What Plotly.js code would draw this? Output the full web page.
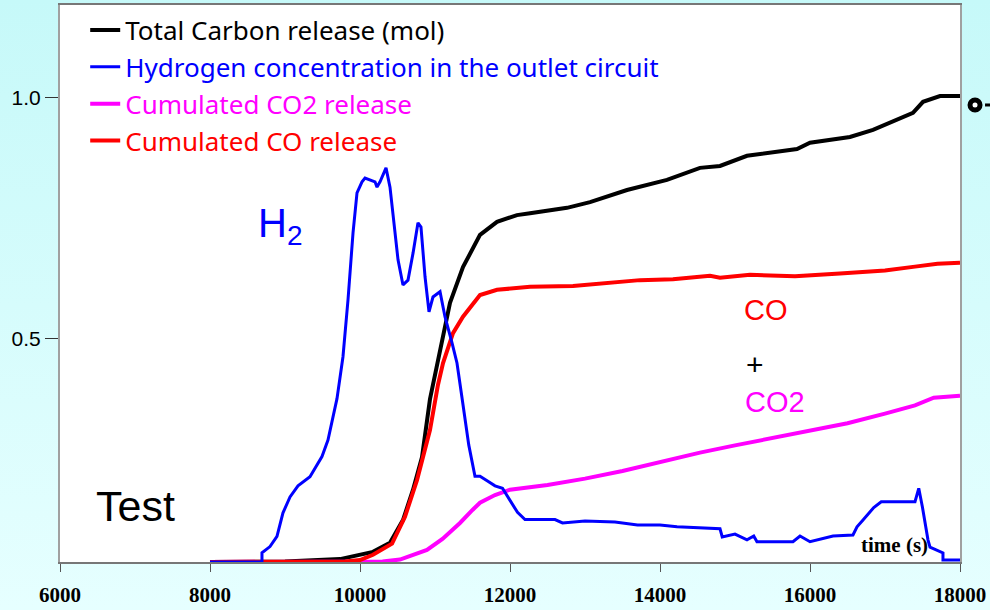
<!DOCTYPE html>
<html>
<head>
<meta charset="utf-8">
<script src="https://cdn.plot.ly/plotly-3.0.1.min.js"></script>
<style>
  html, body { margin: 0; padding: 0; }
  body { width: 990px; height: 610px; background: linear-gradient(#c6f9f9, #e6ffff); }
  #chart { width: 990px; height: 610px; }
</style>
</head>
<body>
<div id="chart"></div>
<script>
// ---- Data ----
const carbonX = [8000, 9000, 9733, 10040, 10173, 10400, 10573, 10707, 10827, 10933, 11067, 11200, 11373, 11600, 11827, 12093, 12267, 12760, 13067, 13560, 14093, 14533, 14800, 15160, 15827, 16000, 16533, 16840, 17373, 17507, 17733, 18000];
const carbonY = [0.037, 0.038, 0.043, 0.053, 0.058, 0.077, 0.124, 0.187, 0.255, 0.375, 0.477, 0.575, 0.649, 0.716, 0.743, 0.757, 0.761, 0.772, 0.784, 0.809, 0.830, 0.855, 0.859, 0.880, 0.894, 0.907, 0.919, 0.934, 0.969, 0.992, 1.004, 1.004];

const coX = [8000, 9800, 10000, 10173, 10427, 10600, 10760, 10933, 11040, 11107, 11240, 11373, 11600, 11827, 12267, 12840, 13733, 14173, 14667, 14800, 15200, 15800, 16400, 17000, 17400, 17700, 18000];
const coY = [0.037, 0.038, 0.041, 0.052, 0.075, 0.131, 0.207, 0.311, 0.405, 0.450, 0.512, 0.546, 0.591, 0.602, 0.608, 0.610, 0.622, 0.624, 0.631, 0.627, 0.633, 0.630, 0.636, 0.642, 0.650, 0.656, 0.658];

const co2X = [8000, 10300, 10533, 10840, 10893, 11100, 11333, 11500, 11600, 11800, 12000, 12500, 13000, 13500, 14000, 14533, 15000, 15500, 16000, 16500, 17000, 17400, 17650, 18000];
const co2Y = [0.037, 0.038, 0.042, 0.058, 0.062, 0.085, 0.118, 0.145, 0.160, 0.176, 0.187, 0.197, 0.210, 0.226, 0.245, 0.264, 0.279, 0.295, 0.310, 0.325, 0.345, 0.362, 0.378, 0.382];

const h2X = [8000, 8693, 8693, 8800, 8893, 8973, 9067, 9173, 9333, 9400, 9493, 9573, 9627, 9693, 9773, 9840, 9907, 9960, 10027, 10067, 10200, 10227, 10267, 10347, 10400, 10440, 10507, 10573, 10640, 10707, 10773, 10813, 10867, 10920, 10973, 11067, 11133, 11227, 11293, 11360, 11450, 11533, 11600, 11700, 11800, 11900, 12000, 12100, 12200, 12600, 12700, 13000, 13400, 13700, 14000, 14227, 14800, 14830, 15000, 15160, 15250, 15293, 15773, 15867, 16000, 16307, 16573, 16627, 16707, 16850, 16950, 17400, 17450, 17500, 17573, 17600, 17773, 17773, 18000];
const h2Y = [0.037, 0.037, 0.056, 0.069, 0.090, 0.139, 0.172, 0.195, 0.214, 0.232, 0.256, 0.290, 0.332, 0.376, 0.463, 0.581, 0.720, 0.803, 0.826, 0.834, 0.826, 0.815, 0.826, 0.855, 0.815, 0.753, 0.664, 0.612, 0.622, 0.678, 0.741, 0.732, 0.629, 0.556, 0.587, 0.598, 0.546, 0.492, 0.450, 0.378, 0.280, 0.215, 0.215, 0.205, 0.195, 0.190, 0.165, 0.140, 0.125, 0.125, 0.118, 0.122, 0.120, 0.114, 0.114, 0.110, 0.106, 0.089, 0.095, 0.083, 0.091, 0.079, 0.079, 0.091, 0.079, 0.091, 0.093, 0.110, 0.124, 0.150, 0.162, 0.162, 0.190, 0.150, 0.083, 0.068, 0.056, 0.041, 0.041];

const names = ['Total Carbon release (mol)', 'Hydrogen concentration in the outlet circuit', 'Cumulated CO2 release', 'Cumulated CO release'];
const colors = ['#000000', '#0000ff', '#ff00ff', '#ff0000'];
const xTicks = [6000, 8000, 10000, 12000, 14000, 16000, 18000];
const xTickText = ['6000', '8000', '10000', '12000', '14000', '16000', '18000'];
const yTicks = [0.5, 1.0];
const yTickText = ['0.5', '1.0'];

const FONT = 'Liberation Sans, Arial, sans-serif';
const LEGFONT = 'Noto Sans, Liberation Sans, sans-serif';
const SERIF = 'Liberation Serif, Times New Roman, serif';

function nm(i) { return '<span style="color:' + colors[i] + '">' + names[i] + '</span>'; }

const traces = [
  { x: carbonX, y: carbonY, name: nm(0), legendrank: 1, mode: 'lines', line: { color: colors[0], width: 4 } },
  { x: co2X, y: co2Y, name: nm(2), legendrank: 3, mode: 'lines', line: { color: colors[2], width: 4 } },
  { x: coX, y: coY, name: nm(3), legendrank: 4, mode: 'lines', line: { color: colors[3], width: 4 } },
  { x: h2X, y: h2Y, name: nm(1), legendrank: 2, mode: 'lines', line: { color: colors[1], width: 3 } }
];

const layout = {
  width: 990, height: 610,
  margin: { l: 60, r: 30, t: 5, b: 48 },
  paper_bgcolor: 'rgba(0,0,0,0)',
  plot_bgcolor: '#ffffff',
  showlegend: true,
  legend: {
    x: 0.028, y: 0.997, xanchor: 'left', yanchor: 'top',
    bgcolor: 'rgba(0,0,0,0)', borderwidth: 0,
    font: { family: LEGFONT, size: 26, color: '#000' },
    itemwidth: 30, tracegroupgap: 0
  },
  xaxis: {
    range: [6000, 18000], tickvals: xTicks, ticktext: xTickText, ticks: 'outside', ticklen: 8, tickcolor: '#555', tickwidth: 1,
    showgrid: false, zeroline: false, showline: true, linecolor: '#777', linewidth: 2, mirror: true,
    ticklabelstandoff: 5,
    tickfont: { family: SERIF, size: 21, color: '#000', weight: 'bold' }
  },
  yaxis: {
    range: [0.037, 1.193], tickvals: yTicks, ticktext: yTickText, ticks: 'outside', ticklen: 13, tickcolor: '#333', tickwidth: 1,
    showgrid: false, zeroline: false, showline: true, linecolor: '#a0a0a0', linewidth: 2, mirror: true,
    tickfont: { family: FONT, size: 21, color: '#000' }
  },
  annotations: [
    { x: 8933, y: 0.735, xref: 'x', yref: 'y', text: 'H<sub>2</sub>', showarrow: false, font: { family: FONT, size: 40, color: '#0000ff' } },
    { x: 7013, y: 0.153, xref: 'x', yref: 'y', text: 'Test', showarrow: false, font: { family: FONT, size: 43, color: '#000' } },
    { x: 15413, y: 0.560, xref: 'x', yref: 'y', text: 'CO', showarrow: false, font: { family: FONT, size: 29, color: '#ff0000' } },
    { x: 15267, y: 0.446, xref: 'x', yref: 'y', text: '+', showarrow: false, font: { family: FONT, size: 30, color: '#000' } },
    { x: 15533, y: 0.369, xref: 'x', yref: 'y', text: 'CO2', showarrow: false, font: { family: FONT, size: 29, color: '#ff00ff' } },
    { x: 17133, y: 0.073, xref: 'x', yref: 'y', text: 'time (s)', showarrow: false, font: { family: SERIF, size: 21, color: '#000', weight: 'bold' } }
  ],
  shapes: [
    { type: 'circle', xref: 'paper', yref: 'paper', xsizemode: 'pixel', ysizemode: 'pixel',
      xanchor: 1.0167, yanchor: 0.8205, x0: -5, x1: 5, y0: -5, y1: 5,
      line: { color: '#000', width: 5 }, fillcolor: '#ffffff' },
    { type: 'line', xref: 'paper', yref: 'paper', xsizemode: 'pixel', ysizemode: 'pixel',
      xanchor: 1.0167, yanchor: 0.8205, x0: 10, x1: 15, y0: 0, y1: 0,
      line: { color: '#000', width: 3 } }
  ]
};

Plotly.newPlot('chart', traces, layout, { displayModeBar: false, staticPlot: true });
</script>
</body>
</html>
